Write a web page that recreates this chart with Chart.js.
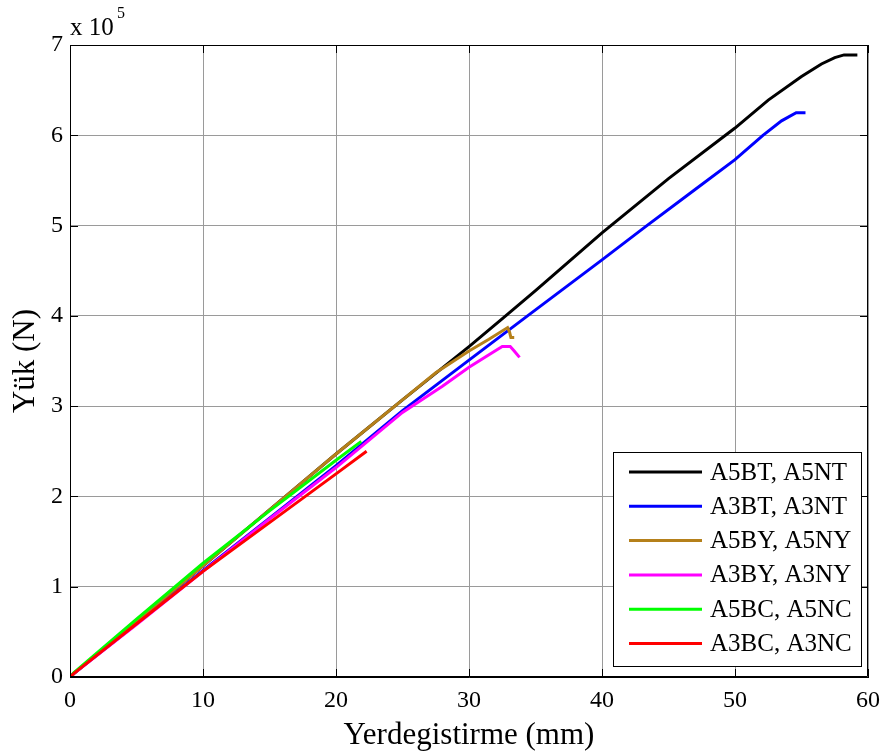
<!DOCTYPE html>
<html>
<head>
<meta charset="utf-8">
<script src="https://cdn.jsdelivr.net/npm/chart.js@4"></script>
<style>
  body { margin: 0; background: #fff; }
  canvas { display: block; }
</style>
</head>
<body>
<canvas id="chart" width="889" height="754"></canvas>
<script>
const labels = ['A5BT, A5NT', 'A3BT, A3NT', 'A5BY, A5NY', 'A3BY, A3NY', 'A5BC, A5NC', 'A3BC, A3NC'];
const colors = ['#000000', '#0000ff', '#b5801a', '#ff00ff', '#00ff00', '#ff0000'];

// displacement (mm) and load (N) for each test pair
const a5btX = [0, 0.3, 2, 5, 10, 15, 20, 25, 30, 32.6, 35, 40, 45, 50, 52.5, 55, 56.5, 57.5, 58.2, 59.2];
const a5btY = [0, 4000, 25000, 62000, 123000, 185000, 247000, 307000, 366000, 398000, 428000, 492000, 552000, 608000, 639000, 665000, 679000, 686000, 689000, 689000];
const a3btX = [0, 0.3, 5, 10, 15, 20, 25, 30, 34.4, 40, 43.2, 47, 50, 52.1, 53.5, 54.6, 55.3];
const a3btY = [0, 4000, 59000, 118000, 176000, 234000, 295000, 351000, 400000, 462000, 498000, 540000, 573000, 600000, 616000, 625000, 625000];
const a5byX = [0, 0.3, 5, 10, 15, 20, 25, 27.5, 30, 31.5, 32.9, 33.05, 33.15, 33.4];
const a5byY = [0, 4000, 62000, 123000, 185000, 247000, 307000, 337000, 361000, 374000, 387000, 382000, 376000, 376000];
const a3byX = [0, 0.3, 5, 10, 15, 20, 25, 28, 30, 31.5, 32.5, 33.1, 33.4, 33.8];
const a3byY = [0, 4000, 58000, 117000, 175000, 232000, 293000, 322000, 343000, 357000, 366000, 366000, 361000, 354000];
const a5bcX = [0, 0.3, 5, 10, 15, 20, 21.9];
const a5bcY = [0, 5000, 64000, 126000, 184000, 240000, 261000];
const a3bcX = [0, 0.3, 5, 10, 15, 20, 22.3];
const a3bcY = [0, 4000, 59000, 117000, 171000, 225000, 250000];

const xTicks = [0, 10, 20, 30, 40, 50, 60];
const yTicks = [0, 1, 2, 3, 4, 5, 6, 7];

const seriesX = [a5btX, a3btX, a5byX, a3byX, a5bcX, a3bcX];
const seriesY = [a5btY, a3btY, a5byY, a3byY, a5bcY, a3bcY];

const serif = '"Liberation Serif", "Times New Roman", serif';

const datasets = labels.map((label, i) => ({
    label,
    data: seriesX[i].map((x, j) => ({ x, y: seriesY[i][j] })),
    borderColor: colors[i],
    borderWidth: 3,
    pointRadius: 0,
    tension: 0,
    fill: false,
    order: labels.length - i
}));

// box, inward ticks, exponent label and legend drawn like a matlab figure
const matlabFrame = {
    id: 'matlabFrame',
    afterDraw(chart) {
        const ctx = chart.ctx;
        const { left, right, top, bottom } = chart.chartArea;
        const xs = chart.scales.x, ys = chart.scales.y;
        const tl = 8;
        ctx.save();
        ctx.strokeStyle = '#000';
        ctx.lineWidth = 1;
        ctx.beginPath();
        ctx.rect(left + 0.5, top + 0.5, right - left - 1, bottom - top - 1);
        xTicks.forEach(v => {
            const px = Math.round(xs.getPixelForValue(v)) + 0.5;
            ctx.moveTo(px, bottom); ctx.lineTo(px, bottom - tl);
            ctx.moveTo(px, top); ctx.lineTo(px, top + tl);
        });
        yTicks.forEach(v => {
            const py = Math.round(ys.getPixelForValue(v * 1e5)) + 0.5;
            ctx.moveTo(left, py); ctx.lineTo(left + tl, py);
            ctx.moveTo(right, py); ctx.lineTo(right - tl, py);
        });
        ctx.stroke();

        ctx.fillStyle = '#000';
        ctx.textBaseline = 'alphabetic';
        ctx.textAlign = 'left';
        ctx.font = '25px ' + serif;
        ctx.fillText('x 10', left, 35);
        ctx.font = '16px ' + serif;
        ctx.fillText('5', left + 47, 18);

        // legend
        const bx = 613, by = 452, bw = 248, bh = 214;
        ctx.fillStyle = '#fff';
        ctx.fillRect(bx, by, bw, bh);
        ctx.strokeStyle = '#000';
        ctx.strokeRect(bx + 0.5, by + 0.5, bw, bh);
        ctx.font = '25px ' + serif;
        ctx.textBaseline = 'middle';
        chart.data.datasets.forEach((ds, i) => {
            const cy = 472 + i * 34.3;
            ctx.strokeStyle = ds.borderColor;
            ctx.lineWidth = 3;
            ctx.beginPath();
            ctx.moveTo(629, cy); ctx.lineTo(702, cy);
            ctx.stroke();
            ctx.fillStyle = '#000';
            ctx.fillText(ds.label, 710, cy + 1);
        });
        ctx.restore();
    }
};

new Chart(document.getElementById('chart'), {
    type: 'line',
    data: { datasets },
    plugins: [matlabFrame],
    options: {
        responsive: false,
        animation: false,
        layout: { padding: { top: 45, right: 16, left: 0, bottom: 0 } },
        plugins: { legend: { display: false }, tooltip: { enabled: false } },
        scales: {
            x: {
                type: 'linear', min: 0, max: 60,
                afterFit: s => { s.height = 77; },
                afterBuildTicks: s => { s.ticks = xTicks.map(value => ({ value })); },
                grid: { color: '#9a9a9a', lineWidth: 1, drawTicks: false },
                border: { display: true, color: '#000', width: 1 },
                ticks: { color: '#000', padding: 9, maxRotation: 0, font: { family: serif, size: 24 } },
                title: { display: true, text: 'Yerdegistirme (mm)', color: '#000', padding: { top: 0, bottom: 0 },
                         font: { family: serif, size: 31, lineHeight: 1.2 } }
            },
            y: {
                type: 'linear', min: 0, max: 7e5,
                afterFit: s => { s.width = 70; },
                afterBuildTicks: s => { s.ticks = yTicks.map(v => ({ value: v * 1e5 })); },
                grid: { color: '#9a9a9a', lineWidth: 1, drawTicks: false },
                border: { display: true, color: '#000', width: 1 },
                ticks: { color: '#000', padding: 7, callback: v => v / 1e5, font: { family: serif, size: 24 } },
                title: { display: true, text: 'Yük (N)', color: '#000', padding: { top: 7, bottom: 0 },
                         font: { family: serif, size: 31, lineHeight: 1.2 } }
            }
        }
    }
});
</script>
</body>
</html>
